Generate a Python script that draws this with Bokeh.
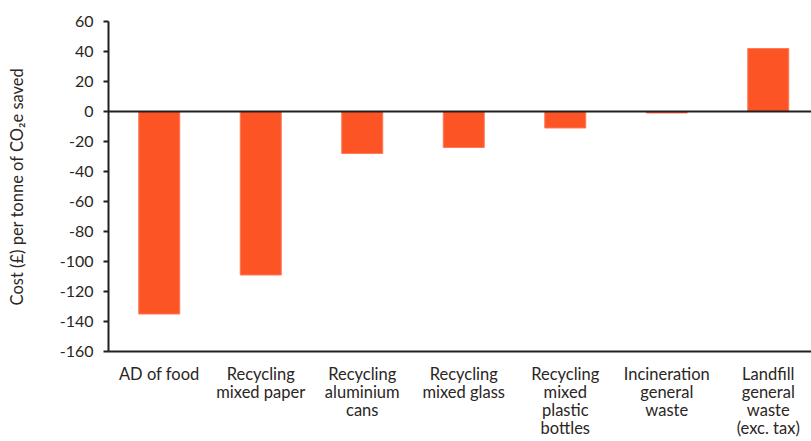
from bokeh.plotting import figure
from bokeh.models import Range1d, FixedTicker, Span, ColumnDataSource
from bokeh.embed import file_html
from bokeh.resources import INLINE

# Waste treatment routes and their cost per tonne of CO2e saved (GBP)
categories = [
    "AD of food",
    "Recycling\nmixed paper",
    "Recycling\naluminium\ncans",
    "Recycling\nmixed glass",
    "Recycling\nmixed\nplastic\nbottles",
    "Incineration\ngeneral\nwaste",
    "Landfill\ngeneral\nwaste\n(exc. tax)",
]
cost_per_tonne = [-135, -109, -28, -24, -11, -1, 42]
y_ticks = [60, 40, 20, 0, -20, -40, -60, -80, -100, -120, -140, -160]

FONT = "Lato"
INK = "#231f20"
TEXT = "#2a2624"
BAR = "#fc5424"

positions = [i + 0.5 for i in range(len(categories))]
source = ColumnDataSource(dict(x=positions, cost=cost_per_tonne))

p = figure(
    width=811, height=441,
    x_range=Range1d(0, 6.926), y_range=Range1d(-160, 60),
    output_backend="svg", toolbar_location=None,
    min_border_left=108, min_border_right=0,
    min_border_top=21, min_border_bottom=90,
)
p.outline_line_color = None
p.xgrid.visible = False
p.ygrid.visible = False
p.background_fill_color = "white"
p.border_fill_color = "white"

p.vbar(x="x", width=0.404, top="cost", bottom=0, source=source,
       fill_color=BAR, line_color="#fd7b57", line_width=1)

# zero baseline
p.add_layout(Span(location=0, dimension="width", line_color=INK, line_width=2))

xa = p.xaxis[0]
xa.ticker = FixedTicker(ticks=positions)
xa.major_label_overrides = {pos: name for pos, name in zip(positions, categories)}
xa.major_tick_line_color = None
xa.minor_tick_line_color = None
xa.major_tick_out = 0
xa.major_label_standoff = 12
xa.axis_line_color = INK
xa.axis_line_width = 2
xa.major_label_text_font = FONT
xa.major_label_text_font_size = "16.5px"
xa.major_label_text_line_height = 0.9
xa.major_label_text_color = TEXT

ya = p.yaxis[0]
ya.ticker = FixedTicker(ticks=y_ticks)
ya.major_label_overrides = {t: str(t) for t in y_ticks}
ya.major_tick_out = 5
ya.major_tick_in = 0
ya.major_tick_line_color = INK
ya.major_tick_line_width = 2
ya.minor_tick_line_color = None
ya.axis_line_color = INK
ya.axis_line_width = 2
ya.major_label_standoff = 10
ya.major_label_text_font = FONT
ya.major_label_text_font_size = "16px"
ya.major_label_text_color = TEXT
ya.axis_label = "Cost (£) per tonne of CO₂e saved"
ya.axis_label_text_font = FONT
ya.axis_label_text_font_size = "16.5px"
ya.axis_label_text_font_style = "normal"
ya.axis_label_text_color = TEXT
ya.axis_label_standoff = 30

open("out.html", "w").write(file_html(p, INLINE))
